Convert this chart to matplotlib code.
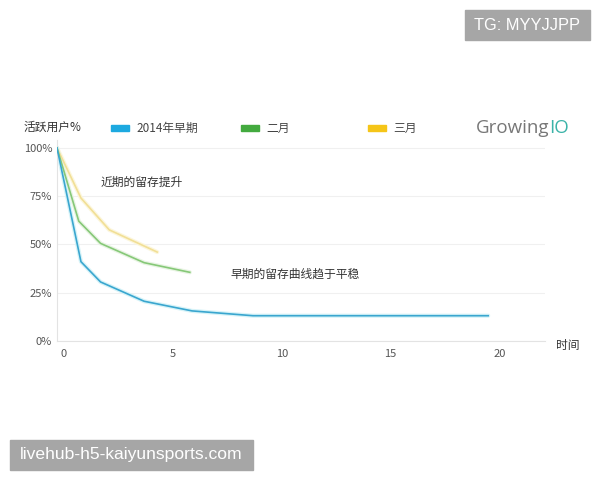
import numpy as np
import matplotlib
matplotlib.use('Agg')
from matplotlib import pyplot as plt
from matplotlib.patches import Rectangle
import matplotlib.transforms as mtrans

plt.rcParams['font.family'] = ['Noto Sans CJK SC', 'DejaVu Sans']

# ---data----------------------------------------
early_x = [0, 1.1, 2, 4, 6.2, 9, 19.8]
early_y = [100, 41, 30.5, 20.5, 15.5, 13, 13]
feb_x = [0, 1, 2, 4, 6.1]
feb_y = [100, 62, 50.5, 40.5, 35.5]
mar_x = [0, 1.1, 2.4, 4.6]
mar_y = [100, 74, 57.5, 46]
series_names = ['2014年早期', '二月', '三月']
xticks = [0, 5, 10, 15, 20]
yticks = [0, 25, 50, 75, 100]
ytick_labels = ['0%', '25%', '50%', '75%', '100%']

c_blue = '#3aa6cf'
c_green = '#86c878'
c_yellow = '#f1df96'
leg_colors = ['#1da9e0', '#43aa3f', '#f5c518']

fig = plt.figure(figsize=(6, 4.8), dpi=100, facecolor='w')
ax = fig.add_axes([0.095, 0.29, 0.813, 0.418])

# glow under each line, then the line itself
for xs, ys, c, glow in [(mar_x, mar_y, c_yellow, '#fcf6dc'),
                        (feb_x, feb_y, c_green, '#e8f4e3'),
                        (early_x, early_y, c_blue, '#d6f3f8')]:
	ax.plot(xs, ys, color=glow, lw=3, solid_capstyle='round', zorder=2)
	ax.plot(xs, ys, color=c, lw=1.2, zorder=3)

ax.set_xlim(0, 22.4)
ax.set_ylim(0, 104)
ax.set_xticks(xticks)
ax.set_yticks(yticks)
ax.set_yticklabels(ytick_labels)
ax.tick_params(length=0, labelsize=8, colors='#555555')
ax.tick_params(axis='x', pad=6)
off = mtrans.ScaledTranslation(7/100, 0, fig.dpi_scale_trans)
for lab in ax.get_xticklabels():
	lab.set_transform(lab.get_transform() + off)
ax.grid(axis='y', color='#f0f0f0', lw=0.8)
ax.set_axisbelow(True)
for s in ['top', 'right']:
	ax.spines[s].set_visible(False)
for s in ['left', 'bottom']:
	ax.spines[s].set_color('#e3e3e3')

ax.text(2.0, 82, '近期的留存提升', fontsize=8.5, color='#333333', va='center')
ax.text(7.98, 34.5, '早期的留存曲线趋于平稳', fontsize=8.5, color='#333333', va='center')

# axis titles
fig.text(24/600, 1-127/480, '活跃用户%', fontsize=8.5, color='#333333', va='center')
fig.text(556/600, 1-345/480, '时间', fontsize=8.5, color='#333333', va='center')

# legend drawn by hand
leg_x = [111, 241, 368]
for xp, c, name in zip(leg_x, leg_colors, series_names):
	fig.patches.append(Rectangle((xp/600, 1-131/480), 18/600, 6/480,
		transform=fig.transFigure, color=c))
	fig.text((xp+25)/600, 1-128/480, name, fontsize=8.5, color='#444444', va='center')

logo = fig.text(476/600, 1-128/480, 'Growing', fontsize=13.5, color='#777777', va='center',
	family='Open Sans')
ax.annotate('IO', xy=(1, 0.5), xycoords=logo, xytext=(0, 0), textcoords='offset points',
	fontsize=13.5, color='#3bb3a8', va='center', ha='left', family='Open Sans',
	annotation_clip=False)

# watermarks
fig.patches.append(Rectangle((465/600, 1-40/480), 125/600, 30/480,
	transform=fig.transFigure, color='#a6a6a6'))
fig.text(527/600, 1-25/480, 'TG: MYYJJPP', fontsize=11.8, color='w', ha='center', va='center',
	family='Liberation Sans')
fig.patches.append(Rectangle((10/600, 1-470/480), 243/600, 30/480,
	transform=fig.transFigure, color='#a6a6a6'))
fig.text(131/600, 1-455/480, 'livehub-h5-kaiyunsports.com', fontsize=12.6, color='w',
	ha='center', va='center', family='Liberation Sans')

plt.savefig('out.png', dpi=100)
